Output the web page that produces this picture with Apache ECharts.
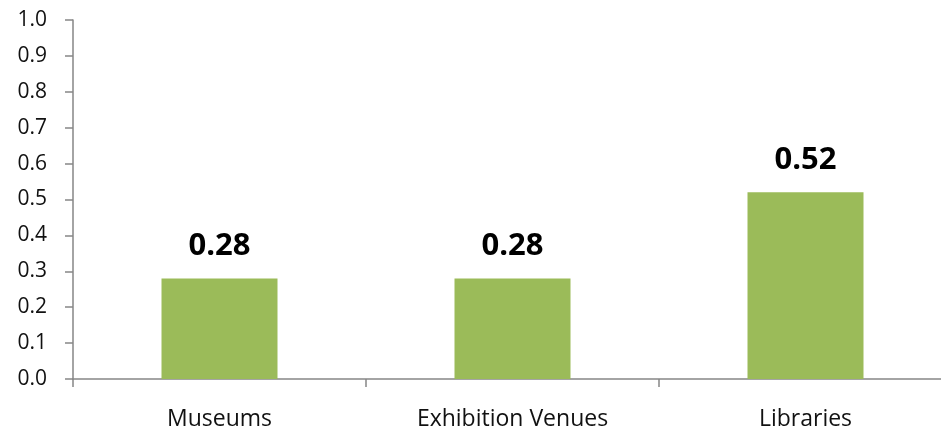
<!DOCTYPE html>
<html lang="en">
<head>
  <meta charset="UTF-8">
  <title>Venue scores</title>
  <style>
    body { margin: 0; padding: 0; background: #fff; }
    #chart { width: 941px; height: 430px; }
  </style>
  <script src="https://cdn.jsdelivr.net/npm/echarts@6/dist/echarts.min.js"></script>
</head>
<body>
  <div id="chart"></div>
  <script>
    const categories = ['Museums', 'Exhibition Venues', 'Libraries'];
    const values = [0.28, 0.28, 0.52];

    const axisGray = '#868686';
    const font = '"Open Sans", Lato, sans-serif';

    let myChart = echarts.init(document.getElementById('chart'));

    let option = {
      animation: false,
      grid: {
        left: 73,
        top: 20,
        width: 879, // plot runs past the right edge in the original
        bottom: 51,
        outerBoundsMode: 'none'
      },
      xAxis: {
        type: 'category',
        data: categories,
        axisLine: { lineStyle: { color: axisGray, width: 1.5 } },
        axisTick: { show: true, length: 8, lineStyle: { color: axisGray, width: 1.5 } },
        axisLabel: {
          color: '#111',
          fontFamily: font,
          fontSize: 23,
          margin: 29
        }
      },
      yAxis: {
        type: 'value',
        min: 0,
        max: 1,
        interval: 0.1,
        splitLine: { show: false },
        axisLine: { show: true, lineStyle: { color: axisGray, width: 1.5 } },
        axisTick: { show: true, length: 8, lineStyle: { color: axisGray, width: 1.5 } },
        axisLabel: {
          color: '#111',
          fontFamily: font,
          fontSize: 21,
          margin: 26,
          formatter: function (v) { return v.toFixed(1); }
        }
      },
      series: [
        {
          type: 'bar',
          data: values,
          barWidth: 116,
          itemStyle: { color: '#9BBB59' },
          label: {
            show: true,
            position: 'top',
            distance: 17,
            color: '#000',
            fontFamily: font,
            fontWeight: 'bold',
            fontSize: 31,
            formatter: function (p) { return p.value.toFixed(2); }
          }
        }
      ]
    };

    myChart.setOption(option);
  </script>
</body>
</html>
